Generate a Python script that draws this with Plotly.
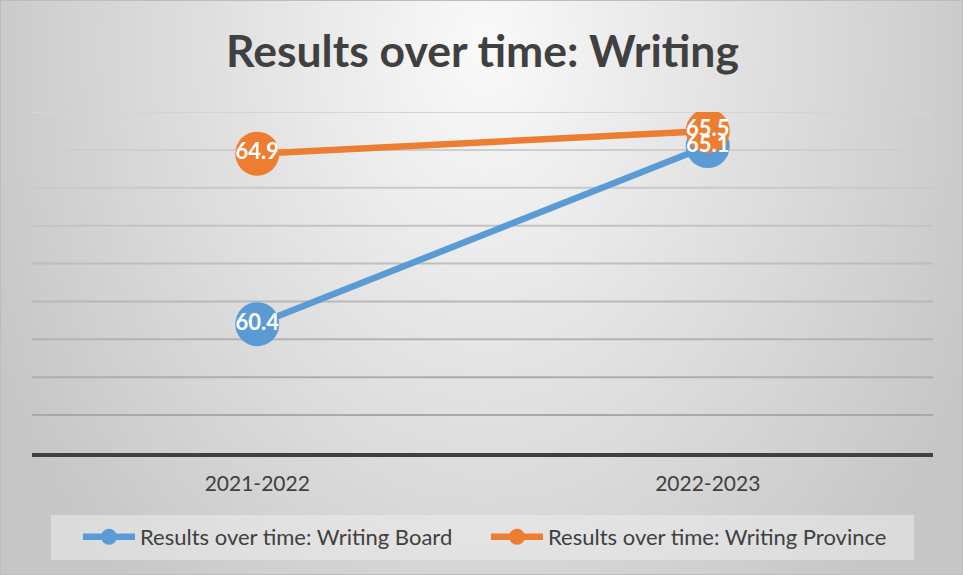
import base64
import struct
import zlib

import plotly.graph_objects as go

# ---------------- data ----------------
categories = ["2021-2022", "2022-2023"]
board_values = [60.4, 65.1]
province_values = [64.9, 65.5]
series_names = ["Results over time: Writing Board", "Results over time: Writing Province"]
chart_title = "Results over time: Writing"
y_min, y_max = 57, 66
grid_values = [58, 59, 60, 61, 62, 63, 64, 65, 66]

# ---------------- geometry helpers ----------------
W, H = 963, 575
ML, MR, MT, MB = 32, 30, 112, 122
PW, PH = W - ML - MR, H - MT - MB


def xp(px):
    return (px - ML) / PW


def yp(py):
    return (H - MB - py) / PH


# ---------------- gradient background (PNG) ----------------
def gradient_png(w, h):
    rows = []
    cx, cy = w * 0.5, h * 0.08
    for j in range(h):
        row = bytearray([0])
        for i in range(w):
            dx = (i - cx) / (w * 0.5)
            dy = (j - cy) / (h * 1.15)
            d = (dx * dx + dy * dy) ** 0.5
            v = int(max(198, min(250, 250 - 46 * d)))
            row.append(v)
        rows.append(bytes(row))
    raw = b"".join(rows)

    def chunk(tag, data):
        c = struct.pack(">I", len(data)) + tag + data
        return c + struct.pack(">I", zlib.crc32(tag + data) & 0xFFFFFFFF)

    png = b"\x89PNG\r\n\x1a\n"
    png += chunk(b"IHDR", struct.pack(">IIBBBBB", w, h, 8, 0, 0, 0, 0))
    png += chunk(b"IDAT", zlib.compress(raw, 9))
    png += chunk(b"IEND", b"")
    return "data:image/png;base64," + base64.b64encode(png).decode()


bg_src = gradient_png(193, 115)

BLUE = "#5B9BD5"
ORANGE = "#ED7D31"
TEXT = "#404040"
FONT = "Lato"

fig = go.Figure()

fig.add_trace(go.Scatter(
    x=categories, y=board_values, name=series_names[0], mode="lines+markers",
    line=dict(color=BLUE, width=6.5), marker=dict(color=BLUE, size=44),
    hoverinfo="skip",
))
fig.add_trace(go.Scatter(
    x=categories, y=province_values, name=series_names[1], mode="lines+markers",
    line=dict(color=ORANGE, width=6.5), marker=dict(color=ORANGE, size=44),
    hoverinfo="skip",
))
for vals in (board_values, province_values):
    fig.add_trace(go.Scatter(
        x=categories, y=vals, mode="text", text=[f"{v:.1f}" for v in vals],
        textposition="middle center",
        textfont=dict(family=FONT, size=22, color="white", weight="bold"),
        showlegend=False, hoverinfo="skip",
    ))

shapes = []
# gridlines (lighter at top, darker at bottom)
for g in grid_values:
    t = (g - grid_values[0]) / (grid_values[-1] - grid_values[0])
    c = int(168 + t * (212 - 168))
    shapes.append(dict(type="line", xref="paper", yref="y", x0=0, x1=1, y0=g, y1=g,
                       line=dict(color=f"rgb({c},{c},{c})", width=2), layer="below"))
# legend box
shapes.append(dict(type="rect", xref="paper", yref="paper",
                   x0=xp(51), x1=xp(914), y0=yp(560), y1=yp(515),
                   fillcolor="rgba(236,236,236,0.55)", line=dict(width=0), layer="below"))
# outer border
shapes.append(dict(type="rect", xref="paper", yref="paper",
                   x0=xp(0.5), x1=xp(W - 0.5), y0=yp(H - 0.5), y1=yp(0.5),
                   line=dict(color="#bdbdbd", width=1), fillcolor="rgba(0,0,0,0)", layer="below"))

fig.update_layout(
    width=W, height=H,
    margin=dict(l=ML, r=MR, t=MT, b=MB, pad=0),
    paper_bgcolor="#d8d8d8",
    plot_bgcolor="rgba(0,0,0,0)",
    images=[dict(source=bg_src, xref="paper", yref="paper", x=xp(0), y=yp(0),
                 sizex=W / PW, sizey=H / PH, sizing="stretch",
                 xanchor="left", yanchor="top", layer="below")],
    title=dict(text=chart_title, x=0.5, xref="paper", xanchor="center",
               y=1 - 51 / H, yref="container", yanchor="middle",
               font=dict(family=FONT, size=44.5, color=TEXT, weight="bold")),
    xaxis=dict(type="category", range=[-0.5, 1.5], showgrid=False, zeroline=False,
               showline=True, linecolor="#404040", linewidth=3.5,
               ticks="", ticklabelstandoff=9,
               tickfont=dict(family=FONT, size=21, color=TEXT), fixedrange=True),
    yaxis=dict(range=[y_min, y_max], showgrid=False, zeroline=False, showline=False,
               showticklabels=False, ticks="", fixedrange=True),
    legend=dict(orientation="h", x=xp(78), y=yp(537), xanchor="left", yanchor="middle",
                bgcolor="rgba(0,0,0,0)", font=dict(family=FONT, size=22, color=TEXT),
                itemwidth=52, entrywidth=341, entrywidthmode="pixels"),
    shapes=shapes,
    showlegend=True,
)

fig.write_html("out.html")
